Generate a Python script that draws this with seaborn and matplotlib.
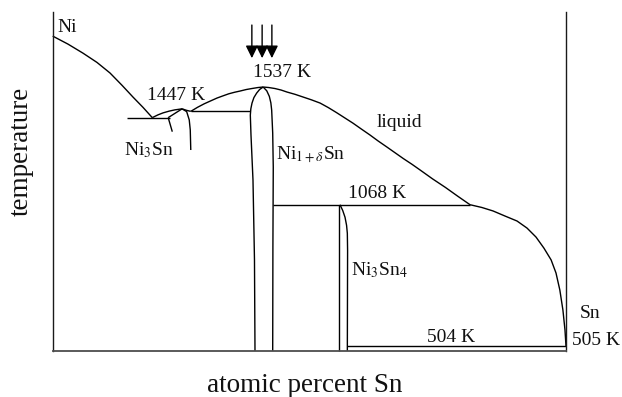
import matplotlib
matplotlib.use("Agg")
import matplotlib.pyplot as plt
import seaborn as sns

# ---- data (atomic percent Sn, temperature in K) ----
ni_liq_x = [0.0, 2.98, 5.9, 8.63, 11.16, 13.5, 15.64, 17.59, 19.4]
ni_liq_t = [1740, 1708, 1672, 1635, 1593, 1544, 1497, 1456, 1415]

eut_x = [14.4, 22.9]
eut_t = [1415, 1415]

ni3sn_liq_x = [19.4, 20.5, 21.5, 22.7, 23.8, 25.2]
ni3sn_liq_t = [1415, 1426, 1434, 1441, 1446, 1450]

ni3sn_left_up_x = [22.5, 25.2]
ni3sn_left_up_t = [1415, 1450]

ni3sn_left_low_x = [22.5, 23.3]
ni3sn_left_low_t = [1415, 1359]

ni3sn_right_x = [25.2, 26.1, 26.6, 26.8, 26.9]
ni3sn_right_t = [1450, 1439, 1406, 1366, 1286]

ni3sn_liq_r_x = [25.2, 26.1, 26.9]
ni3sn_liq_r_t = [1450, 1444, 1440]

perit_x = [26.9, 38.4]
perit_t = [1440, 1440]

liq_mid_x = [26.9, 28.2, 29.5, 30.8, 32.0, 33.2, 34.3, 35.4, 36.5, 37.7, 38.8, 40.0, 41.0]
liq_mid_t = [1440, 1456, 1470, 1482, 1493, 1502, 1510, 1516, 1521, 1527, 1531, 1535, 1537]

liq_right_x = [41.0, 42.1, 43.3, 44.5, 45.65, 47.2, 48.8, 50.4, 52.1, 53.7, 55.3,
               56.9, 58.5, 60.1, 61.8, 63.4, 65.1, 66.7, 68.3, 70.0, 71.6, 74.0,
               76.5, 78.9, 81.3]
liq_right_t = [1537, 1535, 1531, 1525, 1517, 1508, 1497, 1486, 1473, 1455, 1435,
               1414, 1393, 1370, 1346, 1322, 1298, 1275, 1252, 1229, 1206, 1171,
               1137, 1102, 1068]

nisn_left_x = [41.0, 40.3, 39.74, 39.2, 38.83, 38.6, 38.5, 38.63, 39.02, 39.31, 39.41]
nisn_left_t = [1537, 1527, 1513, 1495, 1473, 1450, 1425, 1346, 1166, 848, 485]

nisn_right_x = [41.0, 41.7, 42.2, 42.5, 42.66, 42.86, 42.97, 42.9, 42.86]
nisn_right_t = [1537, 1522, 1500, 1474, 1445, 1354, 1218, 900, 485]

line1068_x = [42.9, 81.3]
line1068_t = [1068, 1068]

ni3sn4_left_x = [55.8, 55.8]
ni3sn4_left_t = [1068, 485]

ni3sn4_right_x = [55.97, 56.5, 56.95, 57.25, 57.4, 57.45, 57.4]
ni3sn4_right_t = [1068, 1045, 1018, 986, 954, 885, 485]

line504_x = [57.4, 100.0]
line504_t = [504, 504]

sn_liq_x = [81.3, 83.6, 85.8, 88.1, 90.46, 92.4, 94.16, 95.7, 97.1, 98.05, 98.8,
            99.4, 99.8, 100.0]
sn_liq_t = [1068, 1057, 1043, 1023, 1003, 975, 939, 895, 848, 796, 728,
            648, 569, 505]

arrow_x = [38.8, 40.8, 42.7]
arrow_top_t = 1784
arrow_tip_t = 1652

labels = ["Ni", "1447 K", "1537 K", "liquid", r"Ni$_{1+\delta}$Sn", r"Ni$_3$Sn",
          "1068 K", r"Ni$_3$Sn$_4$", "504 K", "Sn", "505 K"]
label_x = [0.9, 18.3, 39.0, 63.1, 43.6, 13.9, 57.5, 58.1, 72.9, 102.7, 101.1]
label_t = [1757, 1485, 1576, 1379, 1246, 1266, 1093, 788, 522, 616, 509]

# ---- style ----
sns.set_theme(style="white")
plt.rcParams["font.family"] = ["Liberation Serif", "DejaVu Serif"]
plt.rcParams["mathtext.fontset"] = "stix"

fig = plt.figure(figsize=(6.22, 3.97), dpi=100)
ax = fig.add_axes([52.7 / 622, (397 - 351) / 397, (566 - 52.7) / 622, (351 - 12) / 397])
ax.set_xlim(0, 100)
ax.set_ylim(485, 1836)

curves = [
    (ni_liq_x, ni_liq_t), (eut_x, eut_t), (ni3sn_liq_x, ni3sn_liq_t),
    (ni3sn_left_up_x, ni3sn_left_up_t), (ni3sn_left_low_x, ni3sn_left_low_t),
    (ni3sn_right_x, ni3sn_right_t), (ni3sn_liq_r_x, ni3sn_liq_r_t),
    (perit_x, perit_t), (liq_mid_x, liq_mid_t), (liq_right_x, liq_right_t),
    (nisn_left_x, nisn_left_t), (nisn_right_x, nisn_right_t),
    (line1068_x, line1068_t), (ni3sn4_left_x, ni3sn4_left_t),
    (ni3sn4_right_x, ni3sn4_right_t), (line504_x, line504_t),
    (sn_liq_x, sn_liq_t),
]
for cx, ct in curves:
    sns.lineplot(x=cx, y=ct, sort=False, estimator=None, color="black",
                 linewidth=1.0, ax=ax, clip_on=False,
                 solid_joinstyle="round", solid_capstyle="butt")

for xa in arrow_x:
    ax.annotate("", xy=(xa, arrow_tip_t), xytext=(xa, arrow_top_t),
                arrowprops=dict(arrowstyle="-|>,head_length=0.75,head_width=0.37",
                                mutation_scale=10, color="black", lw=1.0,
                                shrinkA=0, shrinkB=0))

for s, lx, lt in zip(labels, label_x, label_t):
    ax.text(lx, lt, s, fontsize=14, ha="left", va="baseline", color="#111111")

ax.set_xticks([])
ax.set_yticks([])
ax.spines["top"].set_visible(False)
for side in ("left", "right"):
    ax.spines[side].set_color("#1a1a1a")
    ax.spines[side].set_linewidth(1.0)
ax.spines["bottom"].set_color("#4d4d4d")
ax.spines["bottom"].set_linewidth(1.3)

ax.set_xlabel("atomic percent Sn", fontsize=19.5, color="#111111")
ax.xaxis.set_label_coords((305 - 52.7) / 513.3, (351 - 392) / 339)
ax.xaxis.label.set_va("baseline")
ax.set_ylabel("temperature", fontsize=19.5, color="#111111")
ax.yaxis.set_label_coords((21.5 - 52.7) / 513.3, (351 - 151) / 339)
ax.yaxis.label.set_va("center")

fig.savefig("out.png", dpi=100)
